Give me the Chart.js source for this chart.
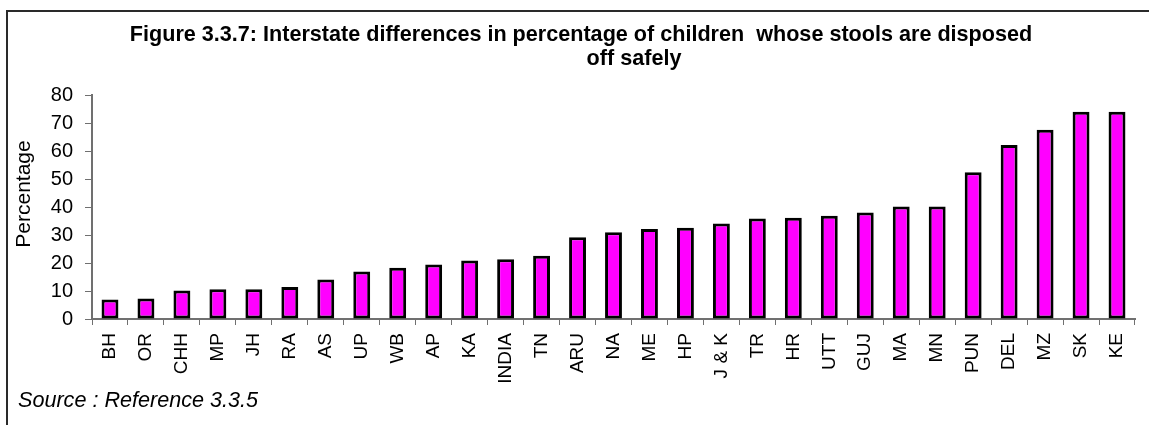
<!DOCTYPE html>
<html><head><meta charset="utf-8">
<script src="https://cdn.jsdelivr.net/npm/chart.js@4.4.1/dist/chart.umd.min.js"></script>
<style>html,body{margin:0;padding:0;background:#fff;overflow:hidden;} canvas{display:block;}</style>
</head><body>
<canvas id="c" width="1149" height="425"></canvas>
<script>
const categories = ['BH','OR','CHH','MP','JH','RA','AS','UP','WB','AP','KA','INDIA','TN','ARU','NA','ME','HP','J & K','TR','HR','UTT','GUJ','MA','MN','PUN','DEL','MZ','SK','KE'];
const values = [7.0,7.3,10.2,10.6,10.6,11.4,14.1,17.0,18.3,19.5,20.9,21.3,22.6,29.2,31.0,32.1,32.6,34.1,35.9,36.2,36.9,38.0,40.2,40.2,52.4,62.1,67.6,74.0,74.0];
const yTickValues = [0,10,20,30,40,50,60,70,80];
const titleLines = ['Figure 3.3.7: Interstate differences in percentage of children  whose stools are disposed', 'off safely'];
const yAxisTitle = 'Percentage';
const sourceText = 'Source : Reference 3.3.5';

const FONT = "'Liberation Sans', Arial, sans-serif";

const decor = {
  id: 'decor',
  beforeDraw(chart) {
    const ctx = chart.ctx;
    ctx.save();
    ctx.fillStyle = '#fff';
    ctx.fillRect(0, 0, chart.width, chart.height);
    ctx.strokeStyle = '#2a2a2a';
    ctx.lineWidth = 2;
    ctx.beginPath();
    ctx.moveTo(7, chart.height + 2);
    ctx.lineTo(7, 11);
    ctx.lineTo(chart.width + 2, 11);
    ctx.stroke();
    ctx.restore();
  },
  afterDraw(chart) {
    const ctx = chart.ctx;
    ctx.save();
    ctx.fillStyle = '#000';
    ctx.textBaseline = 'middle';
    ctx.textAlign = 'center';
    ctx.font = "bold 21.6px " + FONT;
    ctx.fillText(titleLines[0], 581, 35);
    ctx.fillText(titleLines[1], 634, 59);
    ctx.textAlign = 'left';
    ctx.font = "italic 21.6px " + FONT;
    ctx.fillText(sourceText, 18, 401);
    ctx.translate(24, 194);
    ctx.rotate(-Math.PI / 2);
    ctx.textAlign = 'center';
    ctx.font = "21px " + FONT;
    ctx.fillText(yAxisTitle, 0, 0);
    ctx.restore();
  }
};

new Chart(document.getElementById('c'), {
  type: 'bar',
  data: {
    labels: categories,
    datasets: [{
      data: values,
      backgroundColor: '#FF00FF',
      borderColor: '#000000',
      borderWidth: 3,
      borderSkipped: false,
      barPercentage: 0.47,
      categoryPercentage: 1.0
    }]
  },
  options: {
    responsive: false,
    animation: false,
    devicePixelRatio: 1,
    layout: { padding: { left: 0, top: 95, right: 14, bottom: 0 } },
    plugins: { legend: { display: false }, tooltip: { enabled: false }, title: { display: false } },
    scales: {
      x: {
        grid: { display: true, drawOnChartArea: false, drawTicks: true, tickLength: 6, color: '#707070', lineWidth: 1, offset: true },
        border: { display: true, color: '#707070', width: 2 },
        ticks: { autoSkip: false, minRotation: 90, maxRotation: 90, color: '#000', padding: 8, font: { family: FONT, size: 19 } },
        afterFit(s) { s.height = 106; }
      },
      y: {
        min: 0, max: 80,
        afterBuildTicks(s) { s.ticks = yTickValues.map(v => ({ value: v })); },
        grid: { display: true, drawOnChartArea: false, drawTicks: true, tickLength: 7, color: '#707070', lineWidth: 1 },
        border: { display: true, color: '#707070', width: 2 },
        ticks: { color: '#000', padding: 12, font: { family: FONT, size: 20 } },
        title: { display: false },
        afterFit(s) { s.width = 92; }
      }
    }
  },
  plugins: [decor]
});
</script>
</body></html>
